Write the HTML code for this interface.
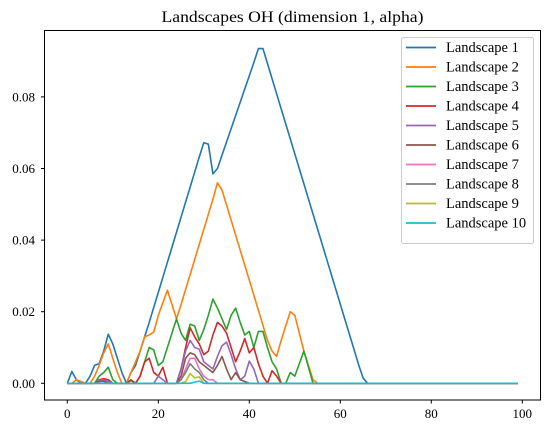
<!DOCTYPE html>
<html><head><meta charset="utf-8">
<style>
html,body{margin:0;padding:0;background:#fff;}
svg{display:block;font-family:"Liberation Serif",serif;}
</style></head>
<body>
<svg id="chart" width="550" height="432" viewBox="0 0 550 432" xmlns="http://www.w3.org/2000/svg">
<rect width="550" height="432" fill="#fff"/>
<text x="292.5" y="22" text-anchor="middle" font-size="16" textLength="262" lengthAdjust="spacingAndGlyphs">Landscapes OH (dimension 1, alpha)</text>
<g id="plot"></g>
<rect x="44.5" y="30.5" width="496" height="369.5" fill="none" stroke="#000" stroke-width="1"/>
<g id="ticks"></g>
<g id="legend"></g>
</svg>
<script>
const xTicks=[0,20,40,60,80,100];
const yTicks=[0,0.02,0.04,0.06,0.08];
const yTickLabels=["0.00","0.02","0.04","0.06","0.08"];
const seriesNames=["Landscape 1","Landscape 2","Landscape 3","Landscape 4","Landscape 5","Landscape 6","Landscape 7","Landscape 8","Landscape 9","Landscape 10"];
const colors=["#1f77b4","#ff7f0e","#2ca02c","#d62728","#9467bd","#8c564b","#e377c2","#7f7f7f","#bcbd22","#17becf"];
const l1=[0,0.0033,0.001,0,0,0.002,0.005,0.0055,0.009,0.0137,0.011,0.007,0.003,0,0.003,0.005,0.009,0.013,0.017,0.0212,0.0254,0.0296,0.0338,0.038,0.0422,0.0464,0.0506,0.0548,0.059,0.0632,0.0672,0.0668,0.0585,0.06,0.0637,0.0674,0.0711,0.0748,0.0785,0.0822,0.0859,0.0896,0.0935,0.0935,0.0893,0.0851,0.0809,0.0767,0.0725,0.0683,0.0641,0.0599,0.0557,0.0515,0.0473,0.0431,0.0389,0.0347,0.0305,0.0263,0.0221,0.0179,0.0137,0.0095,0.0053,0.0015,0];
const l2=[0,0,0.001,0.0005,0,0,0.002,0.005,0.0085,0.011,0.007,0.003,0,0,0.003,0.006,0.009,0.013,0.0135,0.0143,0.019,0.0225,0.026,0.022,0.018,0.022,0.0262,0.0304,0.0346,0.0388,0.043,0.0472,0.0514,0.056,0.054,0.0498,0.0456,0.0414,0.0372,0.033,0.0288,0.0246,0.0204,0.0162,0.012,0.009,0.0075,0.012,0.016,0.02,0.019,0.014,0.009,0.005,0.001,0];
const l3=[0,0,0,0,0,0,0,0.002,0.003,0.0045,0.001,0,0,0,0.001,0,0.002,0.006,0.01,0.0093,0.005,0.006,0.01,0.014,0.018,0.014,0.012,0.0165,0.016,0.012,0.015,0.019,0.0235,0.021,0.018,0.015,0.019,0.021,0.017,0.0135,0.0145,0.01,0.0145,0.0145,0.01,0.006,0.004,0,0,0.003,0.002,0.0055,0.009,0.0045,0];
const l4=[0,0,0,0,0,0,0,0.001,0.0013,0.001,0,0,0,0,0.0008,0,0.002,0.006,0.007,0.003,0.002,0.0045,0,0,0,0.004,0.01,0.0155,0.013,0.011,0.008,0.009,0.0135,0.017,0.016,0.014,0.01,0.006,0.009,0.0125,0.0085,0.01,0.0055,0.002,0,0.0035,0.002,0];
const l5=[0,0,0,0,0,0,0,0.0008,0.001,0.0005,0,0,0,0,0,0,0,0,0,0,0.002,0.001,0,0,0,0.004,0.009,0.012,0.01,0.0095,0.006,0.005,0.004,0.0075,0.0105,0.0115,0.008,0.004,0.001,0.002,0.0062,0.004,0];
const l6=[0,0,0,0,0,0,0,0.0005,0.0006,0,0,0,0,0,0,0,0,0,0,0,0,0,0,0,0,0.002,0.007,0.0085,0.008,0.006,0.005,0.004,0.003,0.005,0.0075,0.004,0.001,0.003,0.001,0.0005,0];
const l7=[0,0,0,0,0,0,0,0,0,0,0,0,0,0,0,0,0,0,0,0,0,0,0,0,0,0.001,0.004,0.007,0.007,0.004,0.002,0.001,0.001,0];
const l8=[0,0,0,0,0,0,0,0,0,0,0,0,0,0,0,0,0,0,0,0,0,0,0,0,0,0.001,0.003,0.0055,0.004,0.003,0.001,0];
const l9=[0,0,0,0,0,0,0,0,0,0,0,0,0,0,0,0,0,0,0,0,0,0,0,0,0,0,0.0005,0.0027,0.0015,0.0018,0];
const l10=[0,0,0,0,0,0,0,0,0,0,0,0,0,0,0,0,0,0,0,0,0,0,0,0,0,0,0,0,0.0003,0.0006,0];
const series=[l1,l2,l3,l4,l5,l6,l7,l8,l9,l10];
const NS="http://www.w3.org/2000/svg";
function xs(v){return 67.3+v*4.55;}
function ys(v){return 383.3-v*3580;}
const plot=document.getElementById('plot');
series.forEach((s,k)=>{
  const pts=[];
  for(let i=0;i<100;i++){const v=i<s.length?s[i]:0;pts.push(xs(i).toFixed(2)+","+ys(v).toFixed(2));}
  const pl=document.createElementNS(NS,'polyline');
  pl.setAttribute('points',pts.join(' '));
  pl.setAttribute('fill','none');pl.setAttribute('stroke',colors[k]);pl.setAttribute('stroke-width','1.6');
  pl.setAttribute('stroke-linejoin','round');
  
  
  plot.appendChild(pl);
});
const ticks=document.getElementById('ticks');
xTicks.forEach(t=>{
  const x=xs(t);
  const l=document.createElementNS(NS,'line');
  l.setAttribute('x1',x);l.setAttribute('x2',x);l.setAttribute('y1',400);l.setAttribute('y2',403.5);l.setAttribute('stroke','#000');
  
  
  ticks.appendChild(l);
  const tx=document.createElementNS(NS,'text');
  tx.setAttribute('x',x);tx.setAttribute('y',418);tx.setAttribute('text-anchor','middle');tx.setAttribute('font-size','13');
  tx.textContent=t;
  
  
  ticks.appendChild(tx);
});
yTicks.forEach((t,i)=>{
  const y=ys(t);
  const l=document.createElementNS(NS,'line');
  l.setAttribute('x1',41);l.setAttribute('x2',44.5);l.setAttribute('y1',y);l.setAttribute('y2',y);l.setAttribute('stroke','#000');
  
  
  ticks.appendChild(l);
  const tx=document.createElementNS(NS,'text');
  tx.setAttribute('x',35);tx.setAttribute('y',y+4.5);tx.setAttribute('text-anchor','end');tx.setAttribute('font-size','13');
  tx.textContent=yTickLabels[i];
  
  
  ticks.appendChild(tx);
});
const lg=document.getElementById('legend');
const box=document.createElementNS(NS,'rect');
box.setAttribute('x',401.5);box.setAttribute('y',37.5);box.setAttribute('width',132);box.setAttribute('height',206);box.setAttribute('rx',2);
box.setAttribute('fill','#fff');box.setAttribute('fill-opacity','0.8');box.setAttribute('stroke','#ccc');


lg.appendChild(box);
seriesNames.forEach((n,k)=>{
  const y=47.5+k*19.5;
  const g=document.createElementNS(NS,'g');
  
  
  const l=document.createElementNS(NS,'line');
  l.setAttribute('x1',406);l.setAttribute('x2',436);l.setAttribute('y1',y);l.setAttribute('y2',y);
  l.setAttribute('stroke',colors[k]);l.setAttribute('stroke-width','1.8');
  g.appendChild(l);
  const tx=document.createElementNS(NS,'text');
  tx.setAttribute('x',446);tx.setAttribute('y',y+4.5);tx.setAttribute('font-size','14.5');
  tx.textContent=n;
  g.appendChild(tx);
  lg.appendChild(g);
});
</script>
</body></html>
